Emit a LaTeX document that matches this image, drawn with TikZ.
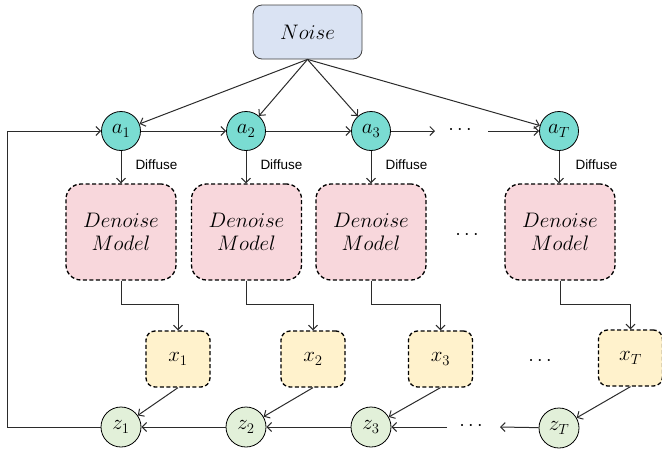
\RequirePackage{fix-cm}
\documentclass[tikz,border=0pt]{standalone}
\usepackage{fontspec}
\newfontfamily\diffusefont{Liberation Sans}
\usetikzlibrary{arrows.meta}
\definecolor{noisefill}{HTML}{DAE3F3}
\definecolor{afill}{HTML}{7ADCD2}
\definecolor{denfill}{HTML}{F8D7DC}
\definecolor{xfill}{HTML}{FFF2CC}
\definecolor{zfill}{HTML}{E2F0D9}
\definecolor{linecol}{HTML}{2B2B2B}
\tikzset{
  arr/.style={draw=linecol, line width=1pt, -{Straight Barb[length=4.5pt,width=9pt,line width=1pt]}},
  noisebox/.style={draw=black!75, line width=0.8pt, fill=noisefill, rounded corners=9pt,
    minimum width=109pt, minimum height=54pt, inner sep=0pt,
    font=\fontsize{21}{24}\selectfont},
  acirc/.style={circle, draw=black, line width=0.8pt, fill=afill, minimum size=39pt, inner sep=0pt,
    font=\fontsize{21}{22}\selectfont},
  zcirc/.style={circle, draw=black, line width=0.8pt, fill=zfill, minimum size=40pt, inner sep=0pt,
    font=\fontsize{21}{22}\selectfont},
  denbox/.style={draw=black, line width=1.3pt, dash pattern=on 4pt off 2.5pt, fill=denfill,
    rounded corners=15pt, minimum width=110pt, minimum height=96pt, inner sep=0pt, align=center,
    font=\fontsize{21}{23.5}\selectfont},
  xbox/.style={draw=black, line width=1.3pt, dash pattern=on 4pt off 2.5pt, fill=xfill,
    rounded corners=9pt, minimum width=64pt, minimum height=56pt, inner sep=0pt,
    font=\fontsize{21}{22}\selectfont},
  difflabel/.style={font=\diffusefont\fontsize{13.5}{15}\selectfont, inner sep=0pt},
  dotslabel/.style={font=\fontsize{20}{20}\selectfont, inner sep=0pt},
}
\begin{document}
\begin{tikzpicture}[x=1pt,y=-1pt]
\useasboundingbox (0,0) rectangle (662,456);
% Noise
\node[noisebox] (noise) at (307.5,32) {$Noise$};
% a nodes
\node[acirc] (a1) at (121,131) {$a_1$};
\node[acirc] (a2) at (246,131) {$a_2$};
\node[acirc] (a3) at (371,131) {$a_3$};
\node[acirc] (aT) at (559,131) {$a_T$};
\node[dotslabel] (adots) at (460,130) {$\cdots$};
\coordinate (aend) at (435,131);
\coordinate (astart) at (488,131);
% denoise
\node[denbox] (d1) at (121,232) {$Denoise$\\$Model$};
\node[denbox] (d2) at (246.5,232) {$Denoise$\\$Model$};
\node[denbox] (d3) at (371,232) {$Denoise$\\$Model$};
\node[denbox] (dT) at (560,232) {$Denoise$\\$Model$};
\node[dotslabel] (ddots) at (467,235) {$\cdots$};
% x boxes
\node[xbox] (x1) at (178,359) {$x_1$};
\node[xbox] (x2) at (313,359) {$x_2$};
\node[xbox] (x3) at (440.5,359) {$x_3$};
\node[xbox] (xT) at (630.5,358) {$x_T$};
\node[dotslabel] (xdots) at (540,361) {$\cdots$};
% z nodes
\node[zcirc] (z1) at (121,427) {$z_1$};
\node[zcirc] (z2) at (246,427) {$z_2$};
\node[zcirc] (z3) at (371,427) {$z_3$};
\node[zcirc] (zT) at (559,428) {$z_T$};
\node[dotslabel] (zdots) at (471,426) {$\cdots$};
\coordinate (zend) at (500,427);
\coordinate (zstart) at (447,427);
\coordinate (fb) at (7,427);
% Noise arrows
\draw[arr] (noise.south) -- (a1);
\draw[arr] (noise.south) -- (a2);
\draw[arr] (noise.south) -- (a3);
\draw[arr] (noise.south) -- (aT);
% a chain
\draw[arr] (a1) -- (a2);
\draw[arr] (a2) -- (a3);
\draw[arr] (a3) -- (aend);
\draw[arr] (astart) -- (aT);
% diffuse
\draw[arr] (a1) -- (a1 |- d1.north) node[difflabel, pos=0.42, right=14pt] (l1) {Diffuse};
\draw[arr] (a2) -- (a2 |- d2.north) node[difflabel, pos=0.42, right=14pt] (l2) {Diffuse};
\draw[arr] (a3) -- (a3 |- d3.north) node[difflabel, pos=0.42, right=14pt] (l3) {Diffuse};
\draw[arr] (aT) -- (aT |- dT.north) node[difflabel, pos=0.42, right=16pt] (lT) {Diffuse};
% denoise -> x
\draw[arr] (d1.south) -- ++(0,24) -| (x1.north);
\draw[arr] (d2.south) -- ++(0,24) -| (x2.north);
\draw[arr] (d3.south) -- ++(0,24) -| (x3.north);
\draw[arr] (dT.south) -- ++(0,24) -| (xT.north);
% x -> z
\draw[arr] (x1.south) -- (z1);
\draw[arr] (x2.south) -- (z2);
\draw[arr] (x3.south) -- (z3);
\draw[arr] (xT.south) -- (zT);
% z chain
\draw[arr] (z2) -- (z1);
\draw[arr] (z3) -- (z2);
\draw[arr] (zstart) -- (z3);
\draw[arr] (zT) -- (zend);
% feedback
\draw[arr] (z1.west) -- (fb) |- (a1.west);
\end{tikzpicture}
\end{document}
